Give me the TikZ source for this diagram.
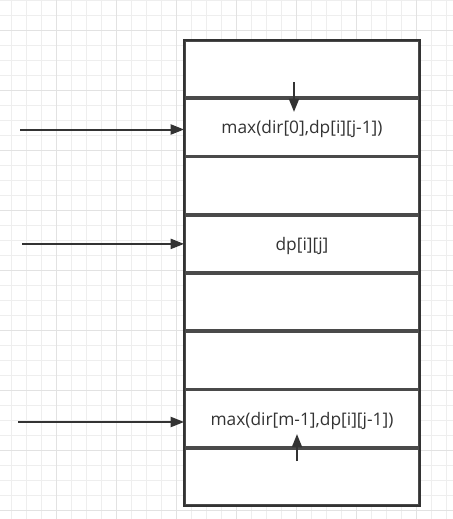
\documentclass[tikz,border=0pt]{standalone}
\usepackage{fontspec}
\setmainfont{Open Sans}
\usepackage{xcolor}
\usetikzlibrary{arrows.meta, positioning, fit, backgrounds}

\definecolor{gridminor}{HTML}{EEEEEE}
\definecolor{gridmajor}{HTML}{E2E2E2}
\definecolor{boxline}{HTML}{333333}
\definecolor{sepline}{HTML}{4A4A4A}

\begin{document}
\begin{tikzpicture}[
  x=0.75pt, y=-0.75pt,
  node distance=0pt,
  cell/.style={draw=sepline, line width=1.4pt, fill=white,
               minimum width=175.5pt, minimum height=42.29pt,
               inner sep=0pt, align=center, font=\fontsize{13}{15}\selectfont,
               text depth=0pt, text=boxline},
  arrow/.style={-{Triangle[length=10pt, width=7.5pt]}, line width=1.5pt, draw=boxline},
  outline/.style={draw=boxline, line width=1.6pt, inner sep=0pt},
]
\useasboundingbox (0,0) rectangle (453,519);
\fill[white] (0,0) rectangle (453,519);

% background grid
\foreach \gx in {11.5,26.5,...,446.5}
  \draw[gridminor, line width=0.75pt] (\gx,0) -- (\gx,519);
\foreach \gy in {0,15,...,515}
  \draw[gridminor, line width=0.75pt] (0,\gy) -- (453,\gy);
\foreach \gx in {56.5,116.5,...,446.5}
  \draw[gridmajor, line width=0.75pt] (\gx,0) -- (\gx,519);
\foreach \gy in {30,90,...,515}
  \draw[gridmajor, line width=0.75pt] (0,\gy) -- (453,\gy);

% the dp column
\node[cell] at (302,69.1) (row1) {};
\node[cell, below=of row1] (row2) {max(dir[0],dp[i][j-1])};
\node[cell, below=of row2] (row3) {};
\node[cell, below=of row3] (row4) {dp[i][j]};
\node[cell, below=of row4] (row5) {};
\node[cell, below=of row5] (row6) {};
\node[cell, below=of row6] (row7) {max(dir[m-1],dp[i][j-1])};
\node[cell, below=of row7] (row8) {};
\node[outline, fit=(row1) (row8)] (column) {};

% incoming arrows
\coordinate (src2) at (20,129.5);
\coordinate (src4) at (22,243.9);
\coordinate (src7) at (18,422);
\draw[arrow] (src2) -- (src2 -| row2.west);
\draw[arrow] (src4) -- (src4 -| row4.west);
\draw[arrow] (src7) -- (src7 -| row7.west);

% arrows inside the column
\coordinate (dnfrom) at (294,82);
\coordinate (dnto)   at (294,112);
\coordinate (upfrom) at (297,461);
\coordinate (upto)   at (297,434);
\draw[arrow] (dnfrom) -- (dnto);
\draw[arrow] (upfrom) -- (upto);
\end{tikzpicture}
\end{document}
